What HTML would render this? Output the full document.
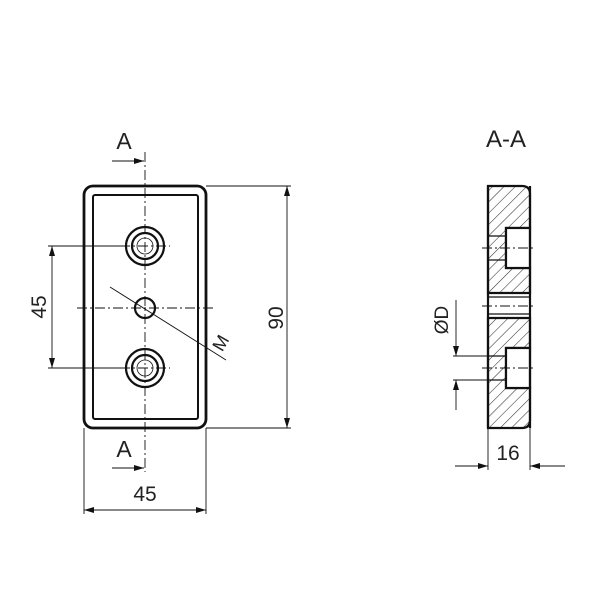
<!DOCTYPE html>
<html><head><style>body{margin:0;background:#fff}</style></head><body>
<svg width="600" height="600" xmlns="http://www.w3.org/2000/svg" font-family="Liberation Sans, sans-serif">
<defs>
<pattern id="h" width="8" height="8" patternUnits="userSpaceOnUse" patternTransform="rotate(45)"><line x1="0" y1="0" x2="0" y2="8" stroke="#333" stroke-width="1.1"/></pattern>
<marker id="a" viewBox="0 0 10 6" refX="10" refY="3" markerWidth="10" markerHeight="6" orient="auto-start-reverse" markerUnits="userSpaceOnUse"><path d="M0,0L10,3L0,6z" fill="#111"/></marker>
</defs>
<rect width="600" height="600" fill="#fff"/>
<g stroke="#111" fill="none">
<rect x="84" y="186" width="122" height="242" rx="9" stroke-width="2.8"/>
<rect x="93" y="195" width="105" height="224" rx="2" stroke-width="2"/>
<g stroke-width="2.2"><circle cx="145" cy="246" r="19"/><circle cx="145" cy="246" r="13"/><circle cx="145" cy="368" r="19"/><circle cx="145" cy="368" r="13"/><circle cx="145" cy="308" r="10"/></g>
<g stroke-width="0.8"><circle cx="145" cy="246" r="8"/><circle cx="145" cy="368" r="8"/></g>
<g stroke-width="0.9" stroke-dasharray="10 3 2 3"><line x1="145" y1="152" x2="145" y2="472"/><line x1="77" y1="308" x2="215" y2="308"/><line x1="120" y1="246" x2="170" y2="246"/><line x1="120" y1="368" x2="170" y2="368"/></g>
<g stroke-width="0.9">
<line x1="48" y1="246" x2="125" y2="246"/><line x1="48" y1="368" x2="125" y2="368"/>
<line x1="52" y1="246" x2="52" y2="368" marker-start="url(#a)" marker-end="url(#a)"/>
<line x1="206" y1="186" x2="291" y2="186"/><line x1="206" y1="428" x2="291" y2="428"/>
<line x1="287" y1="186" x2="287" y2="428" marker-start="url(#a)" marker-end="url(#a)"/>
<line x1="84" y1="428" x2="84" y2="514"/><line x1="206" y1="428" x2="206" y2="514"/>
<line x1="84" y1="510" x2="206" y2="510" marker-start="url(#a)" marker-end="url(#a)"/>
<line x1="110" y1="287" x2="226" y2="360"/>
<line x1="112" y1="161" x2="144" y2="161" marker-end="url(#a)"/>
<line x1="112" y1="468" x2="144" y2="468" marker-end="url(#a)"/>
</g>
<path d="M488,186 H522 Q530,186 530,194 V228 H506 V268 H530 V293 H488 Z" fill="url(#h)" stroke-width="2.2"/>
<path d="M488,318 H530 V348 H506 V388 H530 V420 Q530,428 522,428 H488 Z" fill="url(#h)" stroke-width="2.2"/>
<path d="M488,186 V428" stroke-width="2.2"/>
<rect x="506" y="228" width="24" height="40" fill="#fff" stroke-width="2.2"/>
<rect x="506" y="348" width="24" height="40" fill="#fff" stroke-width="2.2"/>
<g stroke-width="1.3"><line x1="488" y1="236" x2="506" y2="236"/><line x1="488" y1="260" x2="506" y2="260"/><line x1="488" y1="356" x2="506" y2="356"/><line x1="488" y1="380" x2="506" y2="380"/><line x1="488" y1="297" x2="530" y2="297"/><line x1="488" y1="314" x2="530" y2="314"/><line x1="530" y1="186" x2="530" y2="428" stroke-width="2.2"/></g>
<g stroke-width="0.9" stroke-dasharray="10 3 2 3"><line x1="482" y1="248" x2="536" y2="248"/><line x1="482" y1="306" x2="536" y2="306"/><line x1="482" y1="368" x2="536" y2="368"/></g>
<g stroke-width="0.9">
<line x1="453" y1="356" x2="488" y2="356"/><line x1="453" y1="380" x2="488" y2="380"/>
<line x1="456" y1="300" x2="456" y2="356" marker-end="url(#a)"/>
<line x1="456" y1="410" x2="456" y2="380" marker-end="url(#a)"/>
<line x1="488" y1="428" x2="488" y2="470"/><line x1="530" y1="428" x2="530" y2="470"/>
<line x1="455" y1="466" x2="488" y2="466" marker-end="url(#a)"/>
<line x1="565" y1="466" x2="530" y2="466" marker-end="url(#a)"/>
</g>
</g>
<g fill="#222" font-size="21">
<text x="124" y="149" text-anchor="middle" font-size="23">A</text>
<text x="124" y="457" text-anchor="middle" font-size="23">A</text>
<text x="145" y="501" text-anchor="middle">45</text>
<text transform="translate(46,307) rotate(-90)" text-anchor="middle">45</text>
<text transform="translate(283,318) rotate(-90)" text-anchor="middle">90</text>
<text transform="translate(226,346) rotate(-60)" text-anchor="middle" font-size="18">M</text>
<text x="506" y="147" text-anchor="middle" font-size="24">A-A</text>
<text x="508" y="460" text-anchor="middle">16</text>
<text transform="translate(448,320) rotate(-90)" text-anchor="middle" font-size="19">ØD</text>
</g>
</svg>
</body></html>
